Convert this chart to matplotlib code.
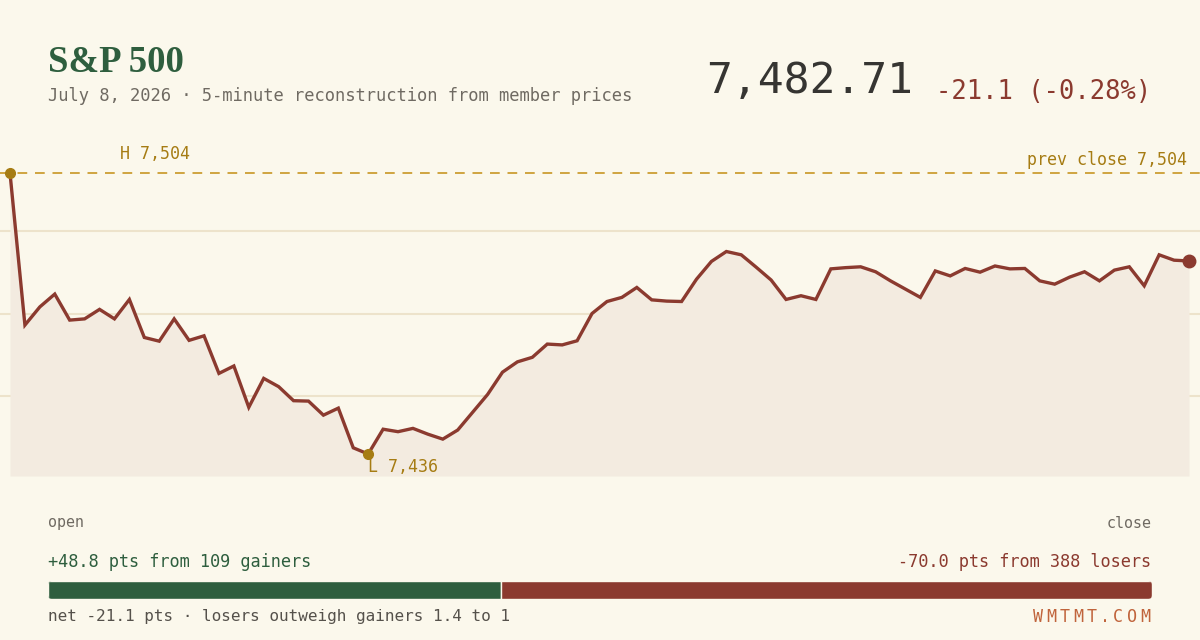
import matplotlib
matplotlib.use("Agg")
import matplotlib.pyplot as plt
from matplotlib.patches import FancyBboxPatch

# 5-minute index levels
levels = [
    7504.0, 7467.2, 7471.6, 7474.7, 7468.4, 7468.7, 7471.0, 7468.7, 7473.4, 7464.2,
    7463.3, 7468.7, 7463.5, 7464.6, 7455.5, 7457.3, 7447.3, 7454.3, 7452.3, 7448.9,
    7448.8, 7445.4, 7447.1, 7437.5, 7436.0, 7442.0, 7441.4, 7442.2, 7440.8, 7439.6,
    7441.8, 7446.1, 7450.4, 7455.8, 7458.3, 7459.4, 7462.6, 7462.4, 7463.4, 7470.0,
    7472.9, 7473.9, 7476.3, 7473.3, 7473.0, 7472.9, 7478.3, 7482.6, 7485.0, 7484.2,
    7481.2, 7478.1, 7473.4, 7474.3, 7473.4, 7480.8, 7481.1, 7481.3, 7480.1, 7477.9,
    7475.9, 7473.9, 7480.3, 7479.1, 7480.9, 7480.0, 7481.5, 7480.8, 7480.9, 7477.9,
    7477.1, 7478.8, 7480.1, 7477.9, 7480.5, 7481.3, 7476.7, 7484.2, 7482.9, 7482.71,
]
prev_close = 7504.0
last_price = 7482.71
change_pts = -21.1
change_pct = -0.28
grid_levels = [7450, 7470, 7490]
contrib_labels = ["gainers", "losers"]
contrib_pts = [48.8, 70.0]
contrib_counts = [109, 388]
net_pts = -21.1
ratio = 1.4

BG = "#fbf8ec"
LINE = "#8b3a2f"
FILL = "#f3ebe0"
GREEN = "#2e5e3e"
GOLD = "#a67c13"
DASH = "#cfa440"
GRID = "#ede3cb"
GREY = "#6f6a62"
MONO = ["DejaVu Sans Mono"]

W, H = 1200, 640
fig = plt.figure(figsize=(12, 6.4), dpi=100, facecolor=BG)


def fx(px):
    return px / W


def fy(py):
    return 1 - py / H


# main chart axes, spans full width; pixel mapping from reference
top_px, bot_px = 150, 476
ax = fig.add_axes([0, fy(bot_px), 1, (bot_px - top_px) / H])
ax.set_facecolor(BG)
ax.axis("off")
step = (1189 - 10) / (len(levels) - 1)
ppu = (454 - 173) / (prev_close - min(levels))
ax.set_xlim((0 - 10) / step, (W - 10) / step)
ax.set_ylim(prev_close - (bot_px - 173) / ppu, prev_close + (173 - top_px) / ppu)

xs = list(range(len(levels)))
for g in grid_levels:
    ax.axhline(g, color=GRID, lw=1.5, zorder=1)
ax.axhline(prev_close, color=DASH, lw=1.4, ls=(0, (5, 4)), zorder=2)
ax.fill_between(xs, levels, ax.get_ylim()[0], color=FILL, lw=0, zorder=1.5)
ax.plot(xs, levels, color=LINE, lw=2.4, solid_joinstyle="miter", zorder=3)

hi_i = levels.index(max(levels))
lo_i = levels.index(min(levels))
ax.plot([hi_i], [levels[hi_i]], "o", color=GOLD, ms=7, zorder=4)
ax.plot([lo_i], [levels[lo_i]], "o", color=GOLD, ms=7, zorder=4)
ax.plot([xs[-1]], [levels[-1]], "o", color=LINE, ms=9, zorder=4)

ax.text(hi_i + 7.4, levels[hi_i] + 4.6, f"H {max(levels):,.0f}", color=GOLD,
        family=MONO, fontsize=12, va="center", ha="left")
ax.text(lo_i, levels[lo_i] - 3.2, f"L {min(levels):,.0f}", color=GOLD,
        family=MONO, fontsize=12, va="center", ha="left")
fig.text(fx(1187), fy(160), f"prev close {prev_close:,.0f}", color=GOLD,
         family=MONO, fontsize=12, va="center", ha="right")

# header
fig.text(fx(48), fy(72), "S&P 500", color=GREEN, family=["Liberation Serif"],
         fontweight="bold", fontsize=26.5, va="baseline", ha="left")
fig.text(fx(48), fy(96), "July 8, 2026 · 5-minute reconstruction from member prices",
         color=GREY, family=MONO, fontsize=12.3, va="center", ha="left")
fig.text(fx(913), fy(93), f"{last_price:,.2f}", color="#363532", family=MONO,
         fontsize=31, va="baseline", ha="right")
fig.text(fx(1151), fy(99), f"{change_pts:.1f} ({change_pct:.2f}%)", color=LINE,
         family=MONO, fontsize=18.4, va="baseline", ha="right")

# footer
fig.text(fx(48), fy(523), "open", color=GREY, family=MONO, fontsize=10.8, va="center")
fig.text(fx(1152), fy(523), "close", color=GREY, family=MONO, fontsize=10.8,
         va="center", ha="right")
fig.text(fx(48), fy(562), f"+{contrib_pts[0]:.1f} pts from {contrib_counts[0]} {contrib_labels[0]}",
         color=GREEN, family=MONO, fontsize=12.2, va="center")
fig.text(fx(1151), fy(562), f"-{contrib_pts[1]:.1f} pts from {contrib_counts[1]} {contrib_labels[1]}",
         color=LINE, family=MONO, fontsize=12.2, va="center", ha="right")

bar_w_px, bar_h_px = 1152 - 48, 18
bax = fig.add_axes([fx(48), fy(599), bar_w_px / W, bar_h_px / H])
bax.axis("off")
bax.set_xlim(0, sum(contrib_pts))
bax.set_ylim(-0.5, 0.5)
clip = FancyBboxPatch((0, 0), 1, 1, boxstyle=f"round,pad=0,rounding_size={4 / bar_w_px}",
                      mutation_aspect=bar_w_px / bar_h_px, transform=bax.transAxes,
                      facecolor="none", edgecolor="none")
bax.add_patch(clip)
bars = bax.barh([0, 0], contrib_pts, height=1, left=[0, contrib_pts[0]],
                color=[GREEN, LINE], edgecolor=BG, lw=1)
for b in bars:
    b.set_clip_path(clip)

fig.text(fx(48), fy(617), f"net {net_pts:.1f} pts · losers outweigh gainers {ratio:.1f} to 1",
         color="#55514b", family=MONO, fontsize=11.5, va="center")
brand = "WMTMT.COM"
for k, ch in enumerate(brand):
    fig.text(fx(1150 - (len(brand) - 1 - k) * 13.4), fy(617), ch, color="#c0643c",
             family=MONO, fontsize=12, va="center", ha="right")

fig.savefig("out.png", dpi=100, facecolor=BG)
